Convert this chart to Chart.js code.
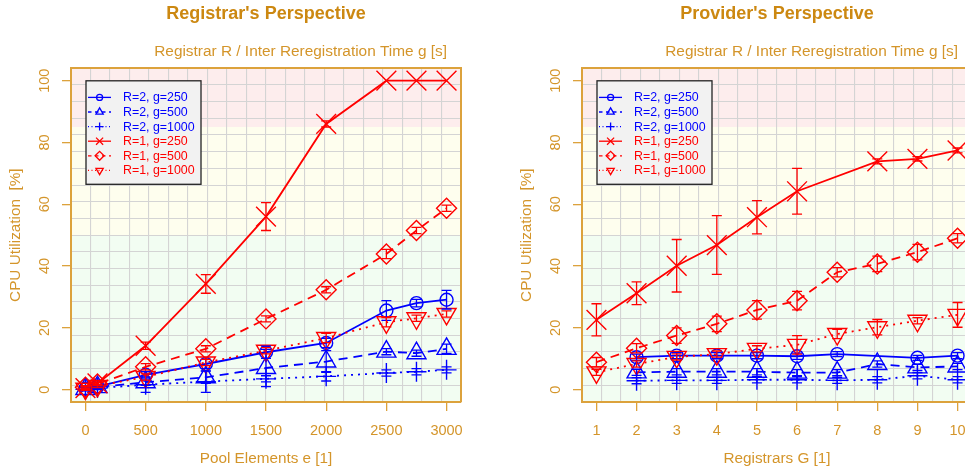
<!DOCTYPE html>
<html>
<head>
<meta charset="utf-8">
<title>CPU Utilization</title>
<script src="https://cdn.jsdelivr.net/npm/chart.js@4.4.1/dist/chart.umd.min.js"></script>
<style>
  html, body { margin: 0; padding: 0; background: #fff; overflow: hidden; }
  #page { position: relative; width: 965px; height: 472px; overflow: hidden; }
  canvas { position: absolute; top: 0; }
</style>
</head>
<body>
<div id="page">
  <canvas id="chartRegistrar" width="485" height="472" style="left:0"></canvas>
  <canvas id="chartProvider" width="485" height="472" style="left:511px"></canvas>
</div>
<script>
// x values of both panels
const poolElements = [0, 100, 500, 1000, 1500, 2000, 2500, 2750, 3000];
const registrars = [1, 2, 3, 4, 5, 6, 7, 8, 9, 10];

// tick labels
const poolTicks = [0, 500, 1000, 1500, 2000, 2500, 3000];
const registrarTicks = [1, 2, 3, 4, 5, 6, 7, 8, 9, 10];
const cpuTicks = [0, 20, 40, 60, 80, 100];

const seriesLabels = ['R=2, g=250', 'R=2, g=500', 'R=2, g=1000', 'R=1, g=250', 'R=1, g=500', 'R=1, g=1000'];

// Registrar's perspective: CPU utilization [%] and error bar half widths
const regR2g250 = [0.3, 1.0, 4.8, 8.3, 12.1, 15.1, 25.6, 28.0, 29.1];
const regR2g500 = [0.2, 0.8, 2.4, 4.0, 7.0, 9.1, 12.3, 11.8, 13.2];
const regR2g1000 = [0.1, 0.5, 1.6, 2.6, 3.5, 4.3, 5.4, 5.8, 6.4];
const regR1g250 = [0.5, 2.0, 14.2, 34.2, 56.0, 86.0, 100, 100, 100];
const regR1g500 = [0.8, 1.8, 7.4, 13.2, 22.9, 32.3, 43.9, 51.5, 58.7];
const regR1g1000 = [0.3, 1.2, 4.1, 8.8, 12.6, 16.7, 21.8, 23.1, 24.5];

const regR2g250Err = [0.5, 0.5, 1.0, 1.5, 2.0, 1.5, 3.2, 1.2, 3.0];
const regR2g500Err = [0.5, 0.5, 1.0, 2.0, 6.0, 3.5, 1.0, 1.0, 1.5];
const regR2g1000Err = [0.5, 0.5, 2.5, 3.5, 1.0, 1.5, 1.0, 1.0, 1.0];
const regR1g250Err = [0.5, 0.5, 1.2, 3.0, 4.5, 1.0, 0, 0, 0];
const regR1g500Err = [0.5, 0.5, 1.0, 1.0, 1.0, 1.0, 1.5, 1.0, 1.0];
const regR1g1000Err = [0.5, 0.5, 1.0, 1.0, 1.0, 1.5, 1.5, 1.0, 1.0];

// Provider's perspective (R=2 needs at least two registrars)
const provR2g250 = [null, 10.5, 11.0, 11.0, 11.0, 10.8, 11.5, null, 10.3, 11.0];
const provR2g500 = [null, 5.6, 5.8, 5.8, 5.8, 5.5, 5.5, 8.3, 7.2, 7.5];
const provR2g1000 = [null, 2.9, 3.0, 3.0, 3.2, 3.2, 3.0, 3.2, 4.5, 3.2];
const provR1g250 = [22.6, 31.2, 40.1, 46.8, 55.8, 64.2, null, 73.9, 74.7, 77.4];
const provR1g500 = [8.9, 13.4, 17.5, 21.3, 25.8, 28.8, 38.0, 40.7, 44.5, 49.0];
const provR1g1000 = [5.6, 8.3, 10.6, 11.5, 13.2, 14.5, 18.0, 20.2, 22.3, 24.2];

const provR2g250Err = [null, 1.0, 1.0, 1.0, 1.0, 1.0, 0.8, null, 0.8, 1.0];
const provR2g500Err = [null, 1.0, 1.0, 1.0, 1.0, 1.0, 1.0, 1.0, 1.0, 1.0];
const provR2g1000Err = [null, 1.0, 1.0, 1.0, 1.0, 1.0, 1.0, 1.0, 1.0, 1.0];
const provR1g250Err = [5.2, 3.7, 8.5, 9.5, 5.4, 7.4, null, 0.8, 0.7, 0.8];
const provR1g500Err = [1.5, 1.5, 2.5, 2.5, 3.0, 3.0, 1.5, 2.5, 2.5, 1.5];
const provR1g1000Err = [1.0, 1.0, 1.0, 1.0, 1.0, 3.0, 1.5, 2.5, 1.0, 4.0];

// load zones behind the data: green below, yellow between, red above
const loadLimits = [50, 85];

const FONT = '"Liberation Sans", Arial, Helvetica, sans-serif';
const TITLE_COLOR = '#cc8811';
const AXIS_TEXT = '#d4952a';
const FRAME = '#dca23c';
const GRID = '#d4d4d4';
const BLUE = '#0000ff';
const RED = '#ff0000';

const seriesStyle = [
  { color: BLUE, dash: [], legendDash: [], point: 'circle', rotation: 0, radius: 6.5, legendRadius: 3 },
  { color: BLUE, dash: [9, 6], legendDash: [3.5, 3.5], point: 'triangle', rotation: 0, radius: 11, legendRadius: 4.2 },
  { color: BLUE, dash: [2, 5], legendDash: [1, 2.5], point: 'cross', rotation: 0, radius: 10, legendRadius: 4 },
  { color: RED, dash: [], legendDash: [], point: 'crossRot', rotation: 0, radius: 14, legendRadius: 5 },
  { color: RED, dash: [9, 6], legendDash: [3.5, 3.5], point: 'rectRot', rotation: 0, radius: 10, legendRadius: 4.5 },
  { color: RED, dash: [2, 5], legendDash: [1, 2.5], point: 'triangle', rotation: 180, radius: 11, legendRadius: 4.2 }
];

function makeDatasets(xs, values, errors) {
  return values.map((vals, k) => {
    const st = seriesStyle[k];
    const pts = [];
    xs.forEach((x, i) => {
      if (vals[i] !== null) pts.push({ x: x, y: vals[i], e: errors[k][i] });
    });
    return {
      label: seriesLabels[k],
      data: pts,
      borderColor: st.color,
      borderWidth: 1.8,
      borderDash: st.dash,
      pointStyle: st.point,
      pointRotation: st.rotation,
      pointRadius: st.radius,
      pointBorderColor: st.color,
      pointBackgroundColor: 'rgba(0,0,0,0)',
      pointBorderWidth: 1.4,
      fill: false,
      tension: 0,
      order: st.color === RED ? 0 : 1
    };
  });
}

const bandPlugin = {
  id: 'loadBands',
  beforeDraw(chart) {
    const { ctx, chartArea: a, scales: { y } } = chart;
    const yLow = y.getPixelForValue(loadLimits[0]);
    const yHigh = y.getPixelForValue(loadLimits[1]);
    ctx.save();
    ctx.fillStyle = 'rgb(253,237,237)';
    ctx.fillRect(a.left, a.top, a.width, yHigh - a.top);
    ctx.fillStyle = 'rgb(254,254,238)';
    ctx.fillRect(a.left, yHigh, a.width, yLow - yHigh);
    ctx.fillStyle = 'rgb(242,253,242)';
    ctx.fillRect(a.left, yLow, a.width, a.bottom - yLow);
    ctx.restore();
  }
};

const errorBarPlugin = {
  id: 'errorBars',
  afterDatasetsDraw(chart) {
    const { ctx, chartArea: a, scales: { x, y } } = chart;
    ctx.save();
    ctx.beginPath();
    ctx.rect(a.left, a.top, a.width, a.height);
    ctx.clip();
    ctx.setLineDash([]);
    chart.data.datasets.forEach(ds => {
      ctx.strokeStyle = ds.borderColor;
      ctx.lineWidth = 1.3;
      ds.data.forEach(p => {
        if (!p.e) return;
        const px = x.getPixelForValue(p.x);
        const top = y.getPixelForValue(p.y + p.e);
        const bot = y.getPixelForValue(p.y - p.e);
        ctx.beginPath();
        ctx.moveTo(px, top); ctx.lineTo(px, bot);
        ctx.moveTo(px - 5, top); ctx.lineTo(px + 5, top);
        ctx.moveTo(px - 5, bot); ctx.lineTo(px + 5, bot);
        ctx.stroke();
      });
    });
    ctx.restore();
  }
};

const legendPlugin = {
  id: 'innerLegend',
  afterDraw(chart) {
    const { ctx, chartArea: a } = chart;
    const left = a.left + 15, top = a.top + 12.5, w = 115, h = 103.5;
    ctx.save();
    ctx.setLineDash([]);
    ctx.fillStyle = '#f2f2f2';
    ctx.fillRect(left, top, w, h);
    ctx.strokeStyle = '#222';
    ctx.lineWidth = 1.3;
    ctx.strokeRect(left, top, w, h);
    ctx.font = '12.4px ' + FONT;
    ctx.textBaseline = 'middle';
    ctx.textAlign = 'left';
    chart.data.datasets.forEach((ds, i) => {
      const st = seriesStyle[i];
      const y = top + 16.6 + i * 14.6;
      ctx.strokeStyle = st.color;
      ctx.lineWidth = 1.3;
      ctx.setLineDash(st.legendDash);
      ctx.beginPath();
      ctx.moveTo(left + 2, y);
      ctx.lineTo(left + 25, y);
      ctx.stroke();
      ctx.setLineDash([]);
      ctx.fillStyle = 'rgba(0,0,0,0)';
      Chart.helpers.drawPoint(ctx, { pointStyle: st.point, rotation: st.rotation, radius: st.legendRadius, borderWidth: 1.3 }, left + 13.6, y);
      ctx.fillStyle = st.color;
      ctx.fillText(ds.label, left + 37, y + 0.5);
    });
    ctx.restore();
  }
};

const titlePlugin = {
  id: 'panelTitles',
  afterDraw(chart, args, opts) {
    const { ctx, chartArea: a } = chart;
    ctx.save();
    ctx.textBaseline = 'alphabetic';
    ctx.fillStyle = TITLE_COLOR;
    ctx.font = 'bold 18px ' + FONT;
    ctx.textAlign = 'center';
    ctx.fillText(opts.title, (a.left + a.right) / 2, 18.5);
    ctx.fillStyle = AXIS_TEXT;
    ctx.font = '15.4px ' + FONT;
    ctx.textAlign = 'right';
    ctx.fillText(opts.subtitle, a.right - 14, 56);
    ctx.restore();
  }
};

function makeOptions(xMin, xMax, xTicks, xTitle, title) {
  const gridAxis = {
    type: 'linear', min: 0, max: 20,
    ticks: { display: false, stepSize: 1 },
    grid: { color: GRID, lineWidth: 1.1, drawTicks: false },
    border: { display: true, color: FRAME, width: 2, z: 1 }
  };
  return {
    responsive: false,
    animation: false,
    events: [],
    layout: { padding: 0 },
    plugins: {
      legend: { display: false },
      tooltip: { enabled: false },
      panelTitles: { title: title, subtitle: 'Registrar R / Inter Reregistration Time g [s]' }
    },
    scales: {
      x: {
        type: 'linear', position: 'bottom', min: xMin, max: xMax,
        afterBuildTicks: s => { s.ticks = xTicks.map(v => ({ value: v })); },
        afterFit: s => { s.height = 70; },
        ticks: { color: AXIS_TEXT, font: { family: FONT, size: 14.5 }, padding: 11, maxRotation: 0, autoSkip: false, callback: v => String(v) },
        grid: { drawOnChartArea: false, drawTicks: true, tickLength: 9, color: FRAME, lineWidth: 1.3 },
        border: { display: true, color: FRAME, width: 2, z: 1 },
        title: { display: true, text: xTitle, color: AXIS_TEXT, font: { family: FONT, size: 15.3 }, padding: { top: 0, bottom: 4 } }
      },
      y: {
        type: 'linear', position: 'left', min: -4, max: 104,
        afterBuildTicks: s => { s.ticks = cpuTicks.map(v => ({ value: v })); },
        afterFit: s => { s.width = 71; },
        ticks: { color: AXIS_TEXT, font: { family: FONT, size: 14.5 }, padding: 5, minRotation: 90, maxRotation: 90, crossAlign: 'center', callback: v => String(v) },
        grid: { drawOnChartArea: false, drawTicks: true, tickLength: 9, color: FRAME, lineWidth: 1.3 },
        border: { display: true, color: FRAME, width: 2, z: 1 },
        title: { display: true, text: 'CPU Utilization  [%]', color: AXIS_TEXT, font: { family: FONT, size: 15.3 }, padding: { top: 7, bottom: 0 } }
      },
      xg: Object.assign({ position: 'top', afterFit: s => { s.height = 68.3; } }, gridAxis),
      yg: Object.assign({ position: 'right', afterFit: s => { s.width = 24; } }, gridAxis)
    }
  };
}

const plugins = [bandPlugin, errorBarPlugin, legendPlugin, titlePlugin];

new Chart(document.getElementById('chartRegistrar'), {
  type: 'line',
  data: {
    datasets: makeDatasets(poolElements,
      [regR2g250, regR2g500, regR2g1000, regR1g250, regR1g500, regR1g1000],
      [regR2g250Err, regR2g500Err, regR2g1000Err, regR1g250Err, regR1g500Err, regR1g1000Err])
  },
  options: makeOptions(-120, 3120, poolTicks, 'Pool Elements e [1]', "Registrar's Perspective"),
  plugins: plugins
});

new Chart(document.getElementById('chartProvider'), {
  type: 'line',
  data: {
    datasets: makeDatasets(registrars,
      [provR2g250, provR2g500, provR2g1000, provR1g250, provR1g500, provR1g1000],
      [provR2g250Err, provR2g500Err, provR2g1000Err, provR1g250Err, provR1g500Err, provR1g1000Err])
  },
  options: makeOptions(0.64, 10.36, registrarTicks, 'Registrars G [1]', "Provider's Perspective"),
  plugins: plugins
});
</script>
</body>
</html>
